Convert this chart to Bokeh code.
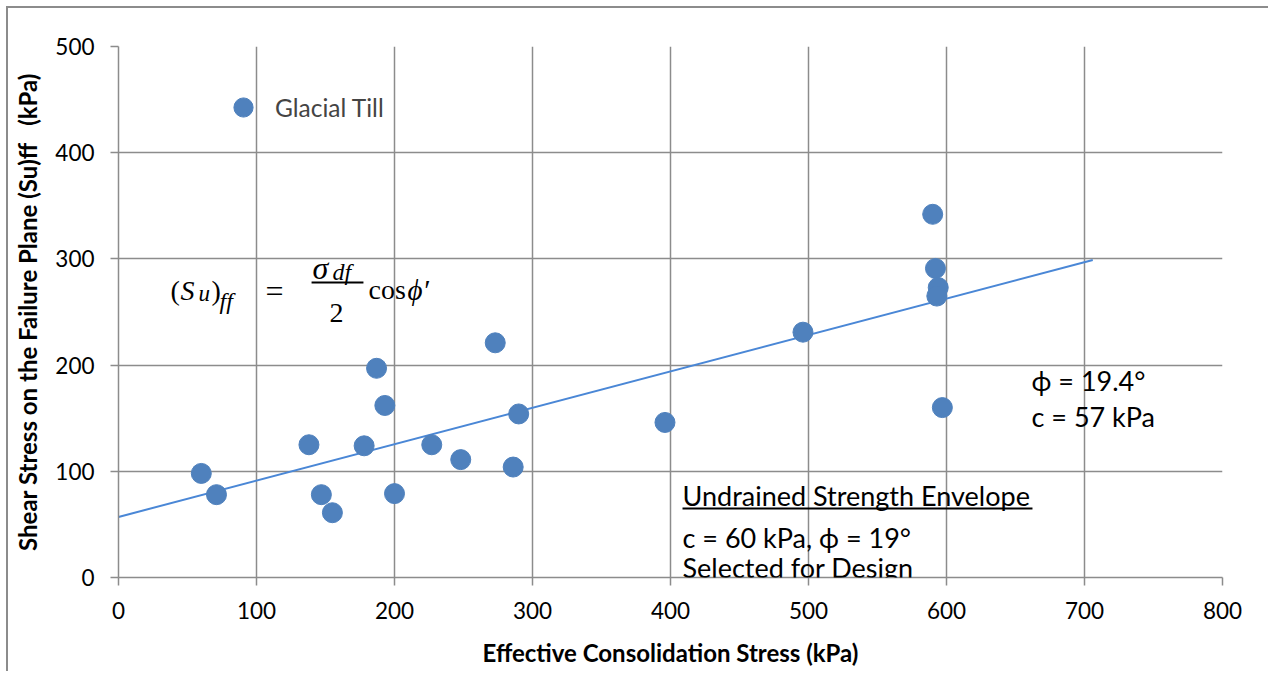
from bokeh.plotting import figure
from bokeh.models import Range1d, FixedTicker, Label, BoxAnnotation, Legend
from bokeh.embed import file_html
from bokeh.resources import INLINE

# ---- data ----
stress_x = [60, 71, 138, 147, 155, 178, 187, 193, 200, 227, 248, 273, 286, 290,
            396, 496, 590, 592, 594, 593, 597]
shear_y = [98, 78, 125, 78, 61, 124, 197, 162, 79, 125, 111, 221, 104, 154,
           146, 231, 342, 291, 273, 265, 160]
trend_x = [0, 706]
trend_y = [57, 299]
x_ticks = [0, 100, 200, 300, 400, 500, 600, 700, 800]
y_ticks = [0, 100, 200, 300, 400, 500]
series_name = "Glacial Till"

FONT = "Lato"
GRID = "#8c8c8c"

p = figure(width=1262, height=665, output_backend="svg", toolbar_location=None,
           x_range=Range1d(0, 800), y_range=Range1d(0, 500),
           min_border_left=110, min_border_right=48, min_border_top=38,
           min_border_bottom=96)
p.styles = {"border-left": "2px solid #8c8c8c", "border-top": "2px solid #8c8c8c",
            "margin-left": "6px", "margin-top": "6px"}
p.outline_line_color = None

p.xaxis.ticker = FixedTicker(ticks=x_ticks)
p.yaxis.ticker = FixedTicker(ticks=y_ticks)
for ax in (p.xaxis[0], p.yaxis[0]):
    ax.axis_line_color = GRID
    ax.axis_line_width = 1.5
    ax.major_tick_line_color = GRID
    ax.major_tick_line_width = 1.5
    ax.major_tick_out = 8
    ax.major_tick_in = 0
    ax.minor_tick_line_color = None
    ax.major_label_text_font = FONT
    ax.major_label_text_font_size = "22.5px"
    ax.major_label_text_color = "#000000"
    ax.axis_label_text_font = FONT
    ax.axis_label_text_font_style = "bold"
    ax.axis_label_text_font_size = "24px"
    ax.axis_label_text_color = "#000000"
p.xaxis.axis_label = "Effective Consolidation Stress (kPa)"
p.yaxis.axis_label = "Shear Stress on the Failure Plane (Su)ff\u00a0\u00a0\u00a0(kPa)"
p.xaxis.major_label_standoff = 16
p.yaxis.major_label_standoff = 16
p.xaxis.axis_label_standoff = 16
p.yaxis.axis_label_standoff = 10

p.xgrid.grid_line_color = GRID
p.ygrid.grid_line_color = GRID
p.xgrid.grid_line_width = 1.5
p.ygrid.grid_line_width = 1.5

p.line(trend_x, trend_y, line_color="#4A87D6", line_width=2)
pts = p.scatter(stress_x, shear_y, size=20, fill_color="#4F81BD", line_color="#4F81BD")

legend = Legend(items=[(series_name, [pts])], location=(101, 446),
                border_line_color=None, background_fill_alpha=0,
                padding=0, margin=0, glyph_width=48, glyph_height=48,
                label_standoff=8, label_text_font=FONT, label_text_font_size="24.5px")
p.add_layout(legend)

# ---- annotations ----
def lab(x, y, t, size="27px", font=FONT, style="normal", base="middle", align="left"):
    p.add_layout(Label(x=x, y=y, text=t, text_font=font, text_font_size=size,
                       text_font_style=style, text_baseline=base, text_align=align,
                       text_color="#000000"))

lab(661.6, 185.5, "ϕ = 19.4°")
lab(661.6, 151.6, "c = 57 kPa")
lab(408.7, 77.2, "Undrained Strength Envelope")
p.add_layout(BoxAnnotation(left=408.7, right=662.3, bottom=64.1, top=65.9,
                           fill_color="black", fill_alpha=1, line_color=None))
lab(408.7, 37.7, "c = 60 kPa, ϕ = 19°")
lab(408.7, 9.4, "Selected for Design")

# ---- equation ----
SERIF = "Liberation Serif"
lab(37.7, 270.2, "(", "28px", SERIF, base="alphabetic")
lab(45.0, 270.2, "S", "28px", SERIF, "italic", base="alphabetic")
lab(57.9, 267.4, "u", "23px", SERIF, "italic", base="alphabetic")
lab(67.4, 270.2, ")", "28px", SERIF, base="alphabetic")
lab(73.2, 260.8, "ff", "24px", SERIF, "italic", base="alphabetic")
lab(106.5, 270.2, "=", "32px", SERIF, base="alphabetic")
lab(140.6, 291.9, "σ", "32px", SERIF, "italic", base="alphabetic")
lab(155.1, 288.1, "df", "24px", SERIF, "italic", base="alphabetic")
p.add_layout(BoxAnnotation(left=139.9, right=177.5, bottom=276.9, top=278.7,
                           fill_color="black", fill_alpha=1, line_color=None))
lab(158.0, 249.5, "2", "28px", SERIF, base="alphabetic", align="center")
lab(181.2, 271.0, "cos", "28px", SERIF, base="alphabetic")
lab(209.4, 271.0, "ϕ′", "29px", SERIF, "italic", base="alphabetic")

open("out.html", "w").write(file_html(p, INLINE))
